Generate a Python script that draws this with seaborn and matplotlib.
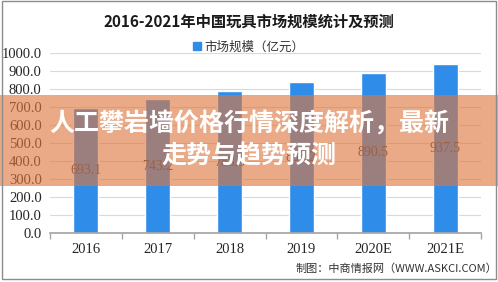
import matplotlib
matplotlib.use("Agg")
import matplotlib.pyplot as plt
import matplotlib.patches as mpatches
import seaborn as sns
import pandas as pd

years = ["2016", "2017", "2018", "2019", "2020E", "2021E"]
market_size = [693.1, 743.2, 788.3, 838.2, 890.5, 937.5]
value_labels = ["693.1", "743.2", "788.3", "838.2", "890.5", "937.5"]
y_ticks = [0, 100, 200, 300, 400, 500, 600, 700, 800, 900, 1000]
y_tick_labels = ["0.0", "100.0", "200.0", "300.0", "400.0", "500.0",
                 "600.0", "700.0", "800.0", "900.0", "1000.0"]
title = "2016-2021年中国玩具市场规模统计及预测"
legend_label = "市场规模（亿元）"
source = "制图：中商情报网（WWW.ASKCI.COM）"
banner_lines = ["人工攀岩墙价格行情深度解析，最新", "走势与趋势预测"]

sns.set_theme(style="white")
plt.rcParams["font.family"] = ["Noto Sans CJK SC", "DejaVu Sans"]

df = pd.DataFrame({"year": years, "size": market_size})

fig = plt.figure(figsize=(4.98, 2.82), dpi=100)
fig.patch.set_facecolor("white")
ax = fig.add_axes([50 / 498, 1 - 233 / 282, 431 / 498, 180 / 282])

bar_color = "#2F8CE8"
sns.barplot(data=df, x="year", y="size", color=bar_color, width=0.35,
            saturation=1, ax=ax)
ax.set_xlim(-0.5, 5.5)
ax.set_ylim(0, 1000)
ax.set_yticks(y_ticks)
ax.set_yticklabels(y_tick_labels, family="Liberation Serif", fontsize=10.5,
                   color="#262626")
ax.set_xticks(range(len(years)))
ax.set_xticklabels(years, family="Liberation Serif", fontsize=10.5,
                   color="#262626")
ax.set_xlabel("")
ax.set_ylabel("")
ax.yaxis.grid(True, color="#D9D9D9", lw=0.8)
ax.set_axisbelow(True)
for s in ["left", "top", "right"]:
    ax.spines[s].set_visible(False)
ax.spines["bottom"].set_color("#A6A6A6")
ax.tick_params(axis="y", length=0, pad=6)
ax.tick_params(axis="x", which="major", length=0, pad=7)
ax.set_xticks([i - 0.5 for i in range(len(years) + 1)], minor=True)
ax.tick_params(axis="x", which="minor", length=4, color="#A6A6A6",
               direction="out", bottom=True)

ax.bar_label(ax.containers[0], labels=value_labels, label_type="center",
             family="Liberation Serif", fontsize=10, color="#404040")

fig.text(0.5, 1 - 22 / 282, title, ha="center", va="center",
         fontsize=11, fontweight="bold", color="#1A1A1A")
handle = mpatches.Patch(color=bar_color)
fig.legend(handles=[handle], labels=[legend_label], loc="center",
           bbox_to_anchor=(0.5, 1 - 47 / 282), frameon=False,
           handlelength=0.6, handleheight=0.6, handletextpad=0.3,
           prop={"family": ["Noto Sans CJK SC"], "size": 9},
           labelcolor="#333333")
fig.text(0.998, 1 - 269 / 282, source, ha="right", va="center",
         fontsize=8, color="#333333")

# banner overlay
fig.patches.append(mpatches.Rectangle((0, 1 - 186 / 282), 1, 91 / 282,
                                      transform=fig.transFigure,
                                      facecolor="#DE763D", alpha=0.62,
                                      edgecolor="none", zorder=5))
fig.text(0.5, 1 - 124 / 282, banner_lines[0], ha="center", va="center",
         fontsize=18, fontweight="bold", color="white", zorder=6)
fig.text(0.5, 1 - 156 / 282, banner_lines[1], ha="center", va="center",
         fontsize=18, fontweight="bold", color="white", zorder=6)

# outer frame
fig.patches.append(mpatches.Rectangle((0.004, 0.01), 0.992, 0.985,
                                      transform=fig.transFigure,
                                      facecolor="none", edgecolor="#8C8C8C",
                                      lw=1, zorder=7))

fig.savefig("out.png", dpi=100)
